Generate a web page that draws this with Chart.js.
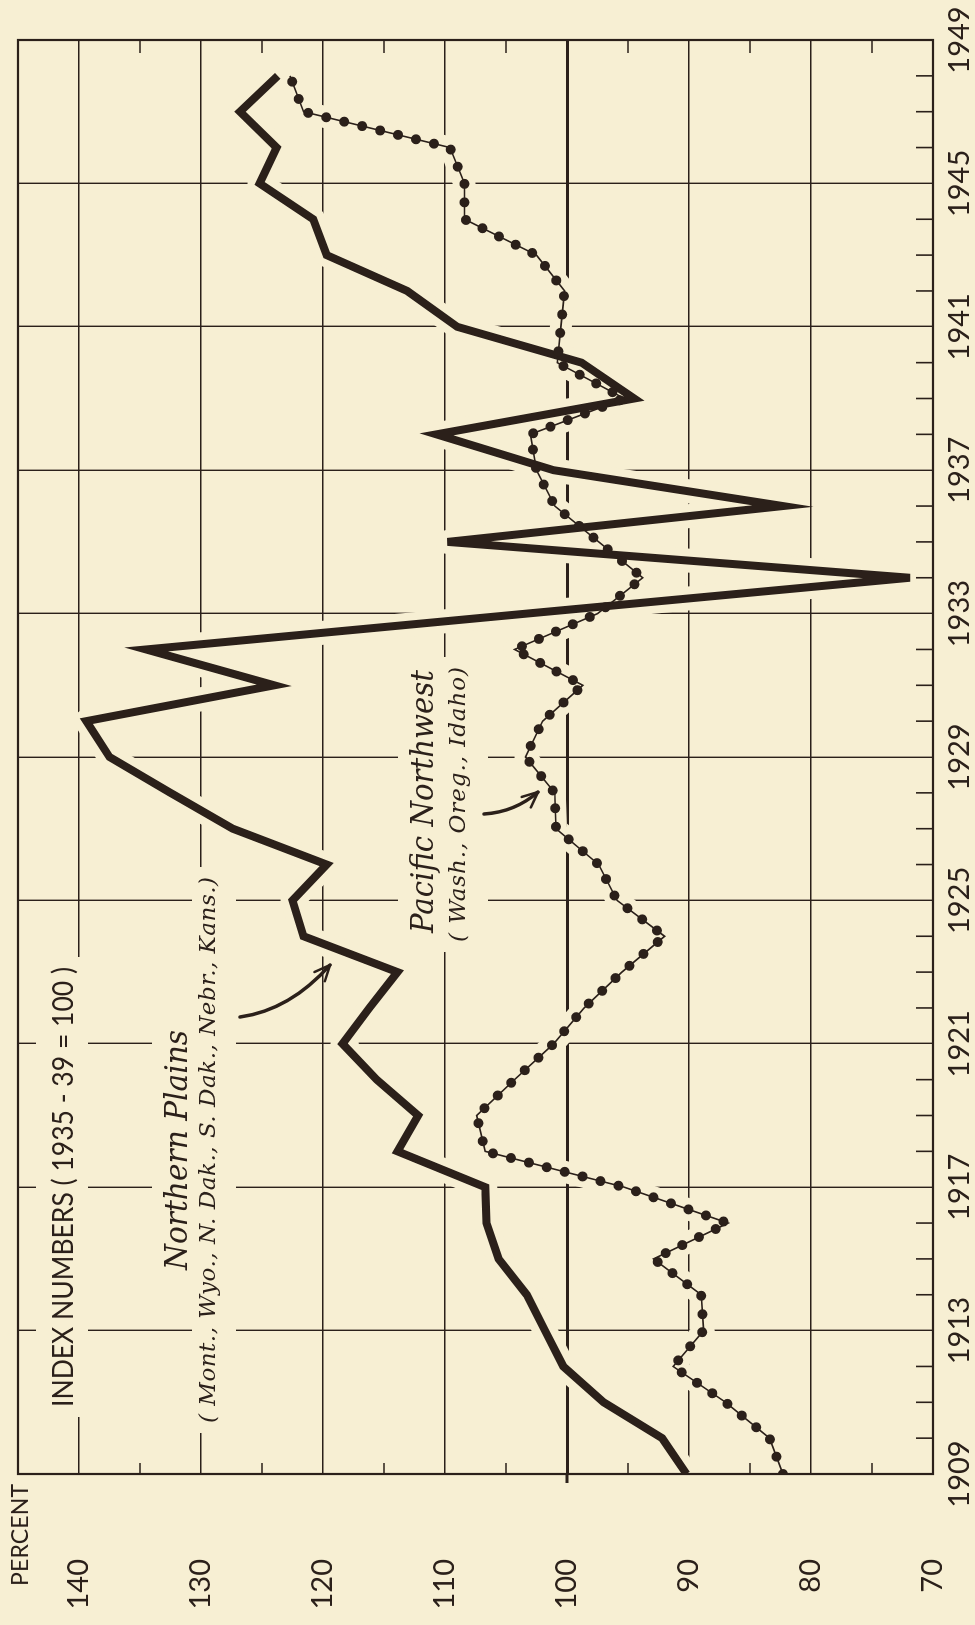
<!DOCTYPE html>
<html>
<head>
<meta charset="utf-8">
<script src="https://cdn.jsdelivr.net/npm/chart.js@4/dist/chart.umd.min.js"></script>
<style>
  html, body { margin: 0; padding: 0; background: #f7efd3; width: 975px; height: 1625px; overflow: hidden; }
  #wrap { position: absolute; left: 0; top: 0; width: 1625px; height: 975px;
          transform-origin: 0 0; transform: translateY(1625px) rotate(-90deg); }
  canvas { display: block; }
</style>
</head>
<body>
<div id="wrap"><canvas id="c" width="1625" height="975"></canvas></div>
<script>
// ---------------- data ----------------
const years = [1909,1910,1911,1912,1913,1914,1915,1916,1917,1918,
               1919,1920,1921,1922,1923,1924,1925,1926,1927,1928,
               1929,1930,1931,1932,1933,1934,1935,1936,1937,1938,
               1939,1940,1941,1942,1943,1944,1945,1946,1947,1948];

const northernPlains = [90.2, 92.2, 97.0,100.3,101.8,103.3,105.6,106.6,106.7,113.9,
                        112.2,115.6,118.4,116.2,113.9,121.6,122.5,119.7,127.4,132.5,
                        137.5,139.4,124.0,134.5,103.3, 71.9,109.8, 82.3,101.1,110.7,
                         94.5, 98.8,109.0,113.1,119.7,120.8,125.2,123.8,126.8,123.7];

const pacificNorthwest = [82.3, 83.4, 87.0, 91.3, 88.8, 89.0, 92.9, 86.8, 95.3,106.7,
                          107.4,104.3,101.1, 98.6, 95.5, 92.0, 95.9, 97.4,100.9,101.0,
                          103.4,102.0, 98.7,104.3, 97.5, 93.8, 97.4,101.0,102.5,103.0,
                           95.3,100.8,100.5,100.2,102.5,108.4,108.4,109.6,121.6,122.7];

const yearTicks = [1909,1913,1917,1921,1925,1929,1933,1937,1941,1945,1949];
const percentTicks = [70,80,90,100,110,120,130,140];
const axisTopValue = 145;
const axisTitle = 'PERCENT';

// ---------------- style ----------------
const BG = '#f7efd3';
const INK = '#2b201a';
const SANS = 'Lato';
const SERIF = '"DejaVu Serif"';

const npPts = years.map((y, i) => ({ x: y, y: northernPlains[i] }));
const pnwPts = years.map((y, i) => ({ x: y, y: pacificNorthwest[i] }));

// annotation text (unrotated canvas coordinates)
const annotations = [
  { t: 'INDEX NUMBERS ( 1935 - 39 = 100 )', u0: 218, u1: 658, base: 73, font: `400 28px ${SANS}`, bg: [36, 88] },
  { t: 'Northern Plains', u0: 355, u1: 595, base: 187, font: `italic 400 32px ${SERIF}`, bg: [152, 194] },
  { t: '( Mont., Wyo., N. Dak., S. Dak., Nebr., Kans.)', u0: 202, u1: 748, base: 215, font: `italic 400 23px ${SERIF}`, bg: [192, 236] },
  { t: 'Pacific Northwest', u0: 692, u1: 955, base: 433, font: `italic 400 32px ${SERIF}`, bg: [398, 442] },
  { t: '( Wash., Oreg., Idaho)', u0: 683, u1: 958, base: 465, font: `italic 400 23px ${SERIF}`, bg: [442, 488] }
];
const arrows = [
  { p0: [608, 240], c: [615, 290], p2: [660, 330] },
  { p0: [811, 484], c: [813, 515], p2: [833, 538] }
];

function fitText(ctx, txt, u0, u1, base, font, bg) {
  ctx.save();
  ctx.font = font;
  const target = u1 - u0;
  if (bg) {
    ctx.fillStyle = BG;
    ctx.fillRect(u0 - 10, bg[0], target + 20, bg[1] - bg[0]);
  }
  ctx.fillStyle = INK;
  ctx.textBaseline = 'alphabetic';
  let w = ctx.measureText(txt).width;
  if (w < target && 'letterSpacing' in ctx) {
    const ls = (target - w) / Math.max(1, txt.length - 1);
    ctx.letterSpacing = ls + 'px';
    w = ctx.measureText(txt).width - ls;
  }
  ctx.translate(u0, base);
  ctx.scale(target / w, 1);
  ctx.fillText(txt, 0, 0);
  ctx.restore();
}

function drawArrow(ctx, a) {
  ctx.save();
  ctx.strokeStyle = INK;
  ctx.lineCap = 'round';
  ctx.lineJoin = 'round';
  ctx.lineWidth = 3.5;
  ctx.beginPath();
  ctx.moveTo(a.p0[0], a.p0[1]);
  ctx.quadraticCurveTo(a.c[0], a.c[1], a.p2[0], a.p2[1]);
  ctx.stroke();
  const ang = Math.atan2(a.p2[1] - a.c[1], a.p2[0] - a.c[0]);
  const L = 17, spread = 0.42;
  ctx.lineWidth = 2.5;
  ctx.beginPath();
  ctx.moveTo(a.p2[0] - L * Math.cos(ang - spread), a.p2[1] - L * Math.sin(ang - spread));
  ctx.lineTo(a.p2[0], a.p2[1]);
  ctx.lineTo(a.p2[0] - L * Math.cos(ang + spread), a.p2[1] - L * Math.sin(ang + spread));
  ctx.stroke();
  ctx.restore();
}

const decor = {
  id: 'decor',
  beforeDraw(chart) {
    const ctx = chart.ctx;
    ctx.save();
    ctx.fillStyle = BG;
    ctx.fillRect(0, 0, chart.width, chart.height);
    ctx.restore();
  },
  beforeDatasetsDraw(chart) {
    const ctx = chart.ctx;
    annotations.forEach(a => fitText(ctx, a.t, a.u0, a.u1, a.base, a.font, a.bg));
  },
  afterDatasetsDraw(chart) {
    arrows.forEach(a => drawArrow(chart.ctx, a));
  },
  afterDraw(chart) {
    const ctx = chart.ctx, ca = chart.chartArea;
    const xs = chart.scales.x, ys = chart.scales.y;
    ctx.save();
    ctx.strokeStyle = INK;
    ctx.lineWidth = 2.2;
    ctx.strokeRect(ca.left, ca.top, ca.right - ca.left, ca.bottom - ca.top);
    ctx.lineWidth = 1.6;
    ctx.beginPath();
    // yearly minor ticks on the 70 border
    for (let yr = yearTicks[0] + 1; yr < yearTicks[yearTicks.length - 1]; yr++) {
      if ((yr - yearTicks[0]) % 4 === 0) continue;
      const u = xs.getPixelForValue(yr);
      ctx.moveTo(u, ca.bottom);
      ctx.lineTo(u, ca.bottom - 17);
    }
    // half-step ticks on the 1909 and 1949 borders
    for (let i = 0; i < percentTicks.length - 1; i++) {
      const v = ys.getPixelForValue((percentTicks[i] + percentTicks[i + 1]) / 2);
      ctx.moveTo(ca.left, v); ctx.lineTo(ca.left + 11, v);
      ctx.moveTo(ca.right, v); ctx.lineTo(ca.right - 13, v);
    }
    ctx.stroke();
    // 100 base line extends past the border
    const v100 = ys.getPixelForValue(100);
    ctx.lineWidth = 3;
    ctx.beginPath();
    ctx.moveTo(ca.left - 9, v100); ctx.lineTo(ca.left, v100);
    ctx.stroke();
    ctx.restore();
    // axis unit title at the top of the value axis
    const vTop = ys.getPixelForValue(axisTopValue);
    fitText(ctx, axisTitle, ca.left - 112, ca.left - 10, vTop + 10, `400 23px ${SANS}`, null);
  }
};

new Chart(document.getElementById('c'), {
  type: 'line',
  data: {
    datasets: [
      { label: 'np-halo', data: npPts, borderColor: BG, borderWidth: 24, pointRadius: 0,
        borderJoinStyle: 'round', borderCapStyle: 'round', order: 10 },
      { label: 'pnw-halo', data: pnwPts, borderColor: BG, borderWidth: 22, pointRadius: 0,
        borderJoinStyle: 'round', borderCapStyle: 'round', order: 9 },
      { label: 'Northern Plains', data: npPts, borderColor: INK, borderWidth: 8, pointRadius: 0,
        borderJoinStyle: 'miter', borderCapStyle: 'butt', order: 3 },
      { label: 'Pacific Northwest (line)', data: pnwPts, borderColor: INK, borderWidth: 1.6, pointRadius: 0,
        order: 2 },
      { label: 'Pacific Northwest', data: pnwPts, borderColor: INK, borderWidth: 10, pointRadius: 0,
        borderDash: [0, 18.5], borderCapStyle: 'round', order: 1 }
    ]
  },
  options: {
    responsive: false,
    animation: false,
    events: [],
    layout: { padding: { left: 0, top: 18, right: 40, bottom: 0 }, autoPadding: false },
    plugins: { legend: { display: false }, tooltip: { enabled: false } },
    scales: {
      x: {
        type: 'linear', position: 'bottom', min: yearTicks[0], max: yearTicks[yearTicks.length - 1],
        afterBuildTicks: s => { s.ticks = yearTicks.map(v => ({ value: v })); },
        afterFit: s => { s.height = 42; s.paddingLeft = 0; s.paddingRight = 0; },
        ticks: { color: INK, font: { family: SANS, size: 29 }, padding: 9, maxRotation: 0, autoSkip: false,
                 callback: v => String(v) },
        grid: { color: INK, lineWidth: 1.4, drawTicks: false },
        border: { display: false }
      },
      y: {
        type: 'linear', position: 'left', min: percentTicks[0], max: axisTopValue,
        afterBuildTicks: s => { s.ticks = percentTicks.map(v => ({ value: v })); },
        afterFit: s => { s.width = 151; s.paddingTop = 0; s.paddingBottom = 0; },
        ticks: {
          color: INK, autoSkip: false, padding: 85,
          font: { family: SANS, size: 29 },
          callback: v => String(v)
        },
        grid: {
          color: INK, drawTicks: false,
          lineWidth: c => (c.tick && c.tick.value === 100) ? 3 : 1.4
        },
        border: { display: false }
      }
    }
  },
  plugins: [decor]
});
</script>
</body>
</html>
